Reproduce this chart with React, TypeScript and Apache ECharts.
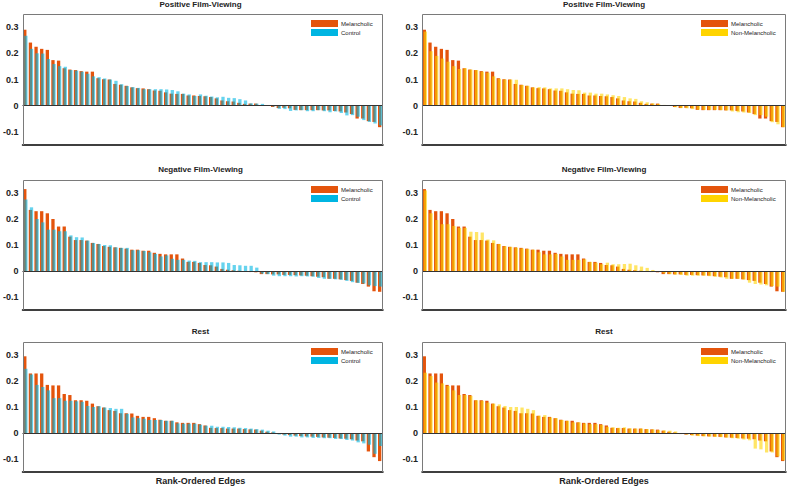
import React, { useEffect, useRef } from "react";
import * as echarts from "echarts";

const edgeRanks: string[] = Array.from({ length: 64 }, (_, i) => String(i + 1));

const melPositive = [0.29, 0.241, 0.225, 0.217, 0.213, 0.174, 0.172, 0.143, 0.138, 0.136, 0.132, 0.13, 0.13, 0.105, 0.101, 0.1, 0.083, 0.08, 0.076, 0.07, 0.067, 0.066, 0.063, 0.058, 0.057, 0.051, 0.046, 0.045, 0.045, 0.039, 0.039, 0.037, 0.036, 0.033, 0.028, 0.02, 0.017, 0.016, 0.011, 0.007, 0.008, 0.008, 0.001, 0, -0.005, -0.009, -0.008, -0.01, -0.016, -0.017, -0.017, -0.017, -0.017, -0.018, -0.018, -0.02, -0.022, -0.026, -0.032, -0.049, -0.049, -0.059, -0.062, -0.082];
const controlPositive = [0.267, 0.217, 0.2, 0.199, 0.178, 0.159, 0.151, 0.149, 0.136, 0.134, 0.13, 0.122, 0.112, 0.109, 0.104, 0.1, 0.095, 0.082, 0.075, 0.071, 0.068, 0.063, 0.063, 0.063, 0.063, 0.062, 0.06, 0.055, 0.046, 0.043, 0.037, 0.043, 0.038, 0.035, 0.032, 0.034, 0.03, 0.029, 0.025, 0.02, 0.009, 0.008, 0.007, 0, -0.003, -0.012, -0.013, -0.02, -0.018, -0.017, -0.021, -0.021, -0.017, -0.021, -0.025, -0.022, -0.028, -0.037, -0.036, -0.042, -0.055, -0.062, -0.068, -0.075];
const nonMelPositive = [0.283, 0.208, 0.19, 0.18, 0.168, 0.151, 0.14, 0.143, 0.138, 0.136, 0.13, 0.126, 0.112, 0.103, 0.1, 0.1, 0.099, 0.079, 0.076, 0.07, 0.071, 0.07, 0.066, 0.066, 0.066, 0.063, 0.06, 0.059, 0.05, 0.05, 0.046, 0.046, 0.043, 0.04, 0.037, 0.033, 0.028, 0.026, 0.017, 0.013, 0.009, 0.007, 0.003, 0, -0.006, -0.009, -0.01, -0.013, -0.015, -0.016, -0.016, -0.016, -0.017, -0.018, -0.022, -0.025, -0.026, -0.028, -0.036, -0.036, -0.042, -0.063, -0.071, -0.082];

const melNegative = [0.315, 0.235, 0.23, 0.23, 0.222, 0.2, 0.171, 0.171, 0.132, 0.119, 0.119, 0.117, 0.108, 0.104, 0.096, 0.093, 0.091, 0.089, 0.086, 0.082, 0.082, 0.078, 0.078, 0.07, 0.066, 0.064, 0.064, 0.064, 0.048, 0.035, 0.035, 0.031, 0.023, 0.022, 0.017, 0.008, 0.005, 0.003, 0.001, -0.003, -0.004, -0.005, -0.012, -0.012, -0.013, -0.013, -0.015, -0.015, -0.016, -0.017, -0.018, -0.02, -0.022, -0.024, -0.03, -0.03, -0.032, -0.035, -0.038, -0.045, -0.05, -0.06, -0.078, -0.08];
const controlNegative = [0.275, 0.245, 0.2, 0.187, 0.159, 0.159, 0.153, 0.153, 0.137, 0.13, 0.129, 0.117, 0.108, 0.104, 0.1, 0.099, 0.091, 0.089, 0.089, 0.08, 0.08, 0.077, 0.072, 0.066, 0.056, 0.06, 0.047, 0.043, 0.043, 0.04, 0.039, 0.034, 0.034, 0.034, 0.033, 0.033, 0.031, 0.023, 0.022, 0.02, 0.02, 0.013, -0.01, -0.012, -0.018, -0.02, -0.02, -0.02, -0.021, -0.02, -0.021, -0.022, -0.027, -0.03, -0.03, -0.032, -0.034, -0.038, -0.043, -0.046, -0.048, -0.055, -0.058, -0.06];
const nonMelNegative = [0.31, 0.222, 0.196, 0.18, 0.18, 0.173, 0.166, 0.166, 0.151, 0.15, 0.148, 0.121, 0.118, 0.104, 0.095, 0.093, 0.09, 0.087, 0.085, 0.082, 0.072, 0.064, 0.064, 0.066, 0.056, 0.043, 0.043, 0.043, 0.045, 0.035, 0.032, 0.026, 0.032, 0.026, 0.026, 0.027, 0.028, 0.022, 0.017, 0.012, 0.004, 0, -0.009, -0.012, -0.014, -0.015, -0.018, -0.018, -0.018, -0.018, -0.02, -0.022, -0.025, -0.03, -0.03, -0.03, -0.033, -0.045, -0.05, -0.052, -0.055, -0.058, -0.06, -0.08];

const melRest = [0.295, 0.229, 0.229, 0.229, 0.185, 0.183, 0.183, 0.15, 0.146, 0.126, 0.126, 0.124, 0.113, 0.103, 0.098, 0.088, 0.085, 0.076, 0.076, 0.075, 0.066, 0.062, 0.062, 0.057, 0.051, 0.047, 0.047, 0.041, 0.039, 0.039, 0.039, 0.034, 0.029, 0.02, 0.019, 0.019, 0.017, 0.017, 0.017, 0.015, 0.014, 0.013, 0.009, 0.005, 0.002, -0.004, -0.006, -0.008, -0.01, -0.012, -0.013, -0.014, -0.015, -0.017, -0.018, -0.019, -0.021, -0.022, -0.024, -0.029, -0.032, -0.071, -0.093, -0.108];
const controlRest = [0.247, 0.225, 0.185, 0.177, 0.164, 0.134, 0.134, 0.124, 0.124, 0.122, 0.12, 0.104, 0.1, 0.103, 0.098, 0.096, 0.093, 0.093, 0.074, 0.06, 0.057, 0.055, 0.05, 0.05, 0.05, 0.047, 0.047, 0.037, 0.036, 0.036, 0.036, 0.032, 0.028, 0.028, 0.024, 0.024, 0.023, 0.022, 0.02, 0.019, 0.017, 0.015, 0.013, 0.009, 0.006, -0.006, -0.01, -0.014, -0.014, -0.017, -0.017, -0.019, -0.019, -0.02, -0.02, -0.023, -0.023, -0.027, -0.029, -0.036, -0.04, -0.045, -0.08, -0.05];
const nonMelRest = [0.232, 0.219, 0.194, 0.191, 0.181, 0.164, 0.146, 0.146, 0.143, 0.126, 0.124, 0.117, 0.113, 0.11, 0.104, 0.1, 0.1, 0.098, 0.093, 0.088, 0.067, 0.069, 0.06, 0.057, 0.05, 0.047, 0.041, 0.041, 0.037, 0.034, 0.034, 0.031, 0.024, 0.022, 0.02, 0.022, 0.018, 0.017, 0.017, 0.015, 0.014, 0.011, 0.01, 0.009, 0.006, -0.003, -0.006, -0.01, -0.012, -0.013, -0.014, -0.015, -0.016, -0.018, -0.02, -0.022, -0.025, -0.028, -0.06, -0.063, -0.075, -0.075, -0.09, -0.105];

const panelTitles = ["Positive Film-Viewing", "Negative Film-Viewing", "Rest"];
const xAxisTitle = "Rank-Ordered Edges";

const ORANGE = "#E4540C";
const CYAN = "#00B5E2";
const YELLOW = "#FFD400";
const FRAME = "#7a7a7a";
const FONT = "Liberation Sans, Arial, Helvetica, sans-serif";

export default function App() {
  const ref = useRef<HTMLDivElement>(null);
  useEffect(() => {
    if (!ref.current) return;
    const chart = echarts.init(ref.current, undefined, { renderer: "svg" });

    const panels = [
      { row: 0, col: 0, a: melPositive, b: controlPositive, bName: "Control", bColor: CYAN },
      { row: 0, col: 1, a: melPositive, b: nonMelPositive, bName: "Non-Melancholic", bColor: YELLOW },
      { row: 1, col: 0, a: melNegative, b: controlNegative, bName: "Control", bColor: CYAN },
      { row: 1, col: 1, a: melNegative, b: nonMelNegative, bName: "Non-Melancholic", bColor: YELLOW },
      { row: 2, col: 0, a: melRest, b: controlRest, bName: "Control", bColor: CYAN },
      { row: 2, col: 1, a: melRest, b: nonMelRest, bName: "Non-Melancholic", bColor: YELLOW },
    ];
    const gridTops = [14, 180, 342];
    const gridHeights = [131, 130, 130];
    const gridLefts = [18, 422];
    const gridWidths = [365, 364];
    const titleTops = [0, 165, 327];
    const legendTops = [20, 186, 348];
    const legendLefts = [311, 701];

    const title: any[] = [];
    const legend: any[] = [];
    const grid: any[] = [];
    const xAxis: any[] = [];
    const yAxis: any[] = [];
    const series: any[] = [];

    const yFormatter = (v: number) => {
      const r = Math.round(v * 100);
      if (r % 10 !== 0) return "";
      return String(r / 100);
    };

    panels.forEach((p, i) => {
      const left = gridLefts[p.col];
      const width = gridWidths[p.col];
      const top = gridTops[p.row];
      const height = gridHeights[p.row];
      grid.push({ left, top, width, height });
      title.push({
        text: panelTitles[p.row],
        left: left + width / 2,
        top: titleTops[p.row],
        textAlign: "center",
        padding: 0,
        textStyle: { fontSize: 8, fontWeight: "bold", color: "#222", fontFamily: FONT },
      });
      legend.push({
        left: legendLefts[p.col],
        top: legendTops[p.row],
        orient: "vertical",
        icon: "rect",
        itemWidth: 27,
        itemHeight: 7,
        itemGap: 2,
        padding: 0,
        selectedMode: false,
        textStyle: { fontSize: 6, color: "#222", fontFamily: FONT, padding: [0, 0, 0, -2] },
        data: [
          { name: "Melancholic", itemStyle: { color: ORANGE, opacity: 1 } },
          { name: p.bName, itemStyle: { color: p.bColor, opacity: 1 } },
        ],
      });
      xAxis.push({
        type: "category",
        gridIndex: i,
        data: edgeRanks,
        position: "bottom",
        axisLine: { show: true, onZero: false, lineStyle: { color: "#000", width: 1.5 } },
        axisTick: { show: false },
        axisLabel: { show: false },
        splitLine: { show: false },
      });
      yAxis.push({
        type: "value",
        gridIndex: i,
        position: "left",
        min: -0.15,
        max: 0.35,
        interval: 0.05,
        axisLine: { show: false },
        axisTick: { show: false },
        splitLine: { show: false },
        axisLabel: {
          fontSize: 9,
          fontWeight: "bold",
          color: "#222",
          fontFamily: FONT,
          margin: 4,
          formatter: yFormatter,
        },
      });
      // frame: left, top, right edges as a polyline drawn through a custom series on the grid
      series.push({
        type: "bar",
        name: "Melancholic",
        xAxisIndex: i,
        yAxisIndex: i,
        data: p.a,
        barWidth: 3.3,
        barGap: "-68%",
        itemStyle: { color: ORANGE },
        markLine: {
          silent: true,
          symbol: "none",
          label: { show: false },
          lineStyle: { color: "#333", width: 1, type: "solid" },
          data: [{ yAxis: 0 }],
        },
      });
      series.push({
        type: "bar",
        name: p.bName,
        xAxisIndex: i,
        yAxisIndex: i,
        data: p.b,
        barWidth: 3.3,
        barGap: "-68%",
        itemStyle: { color: p.bColor, opacity: 0.6 },
      });
      series.push({
        type: "custom",
        xAxisIndex: i,
        yAxisIndex: i,
        silent: true,
        z: 10,
        data: [0],
        renderItem: (params: any, api: any) => {
          const c = params.coordSys;
          const x0 = Math.round(c.x) + 0.5;
          const y0 = Math.round(c.y) + 0.5;
          const x1 = Math.round(c.x + c.width) - 0.5;
          const y1 = Math.round(c.y + c.height);
          return {
            type: "polyline",
            shape: { points: [[x0, y1], [x0, y0], [x1, y0], [x1, y1]] },
            style: { fill: "none", stroke: FRAME, lineWidth: 1 },
          };
        },
      });
    });

    [0, 1].forEach((c) => {
      title.push({
        text: xAxisTitle,
        left: gridLefts[c] + gridWidths[c] / 2,
        top: 476,
        textAlign: "center",
        padding: 0,
        textStyle: { fontSize: 9, fontWeight: "bold", color: "#222", fontFamily: FONT },
      });
    });

    chart.setOption({
      animation: false,
      backgroundColor: "#fff",
      textStyle: { fontFamily: FONT },
      title,
      legend,
      grid,
      xAxis,
      yAxis,
      series,
    });
    return () => chart.dispose();
  }, []);

  return (
    <div
      ref={ref}
      style={{ position: "absolute", left: 0, top: 0, width: 790, height: 487 }}
    />
  );
}
